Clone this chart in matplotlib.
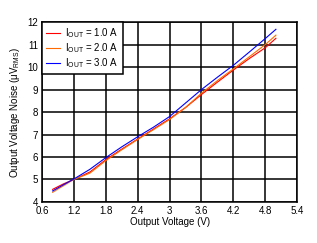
import matplotlib
matplotlib.use("Agg")
import matplotlib.pyplot as plt
import numpy as np

plt.rcParams['font.family'] = ['Liberation Sans', 'DejaVu Sans']
plt.rcParams['mathtext.default'] = 'regular'

# output voltage (V)
vout = [0.8, 1.0, 1.2, 1.5, 1.8, 2.1, 2.4, 2.7, 3.0, 3.3, 3.6, 3.9, 4.2, 4.5, 4.8, 5.0]
# output voltage noise (uVrms) per load current
noise_1a = [4.56, 4.80, 5.00, 5.33, 5.88, 6.35, 6.80, 7.25, 7.70, 8.20, 8.78, 9.33, 9.87, 10.38, 10.86, 11.28]
noise_2a = [4.43, 4.72, 5.00, 5.28, 5.84, 6.32, 6.78, 7.22, 7.67, 8.20, 8.84, 9.40, 9.92, 10.46, 11.00, 11.42]
noise_3a = [4.49, 4.76, 5.02, 5.45, 5.97, 6.45, 6.90, 7.33, 7.80, 8.40, 9.00, 9.55, 10.08, 10.67, 11.27, 11.68]

labels = ['I$_{OUT}$ = 1.0 A', 'I$_{OUT}$ = 2.0 A', 'I$_{OUT}$ = 3.0 A']
colors = ['#FF0000', '#FF6A00', '#0000FF']

fig = plt.figure(figsize=(3.17, 2.43), dpi=100)
ax = fig.add_axes([0.1325, 0.169, 0.805, 0.740])

for y, lab, c in zip([noise_1a, noise_2a, noise_3a], labels, colors):
    ax.plot(vout, y, color=c, lw=0.8, label=lab)

ax.set_xlim(0.6, 5.4)
ax.set_ylim(4, 12)
ax.set_xticks(np.arange(0.6, 5.41, 0.6))
ax.set_xticklabels(['0.6', '1.2', '1.8', '2.4', '3', '3.6', '4.2', '4.8', '5.4'])
ax.set_yticks(range(4, 13))
ax.grid(True, color='black', lw=1.1)
ax.tick_params(length=0, labelsize=7, pad=3, colors='black')
for s in ax.spines.values():
    s.set_linewidth(1.1)
    s.set_color('black')

ax.set_xlabel('Output Voltage (V)', fontsize=7, labelpad=1)
ax.set_ylabel('Output Voltage Noise (\u03bcV$_{RMS}$)', fontsize=7, labelpad=4)

leg = ax.legend(loc='upper left', fontsize=7, fancybox=False, framealpha=1,
                edgecolor='black', borderaxespad=0, handlelength=1.5,
                handletextpad=0.5, labelspacing=0.12, borderpad=0.4)
leg.get_frame().set_linewidth(1.1)

fig.savefig('out.png', dpi=100)
